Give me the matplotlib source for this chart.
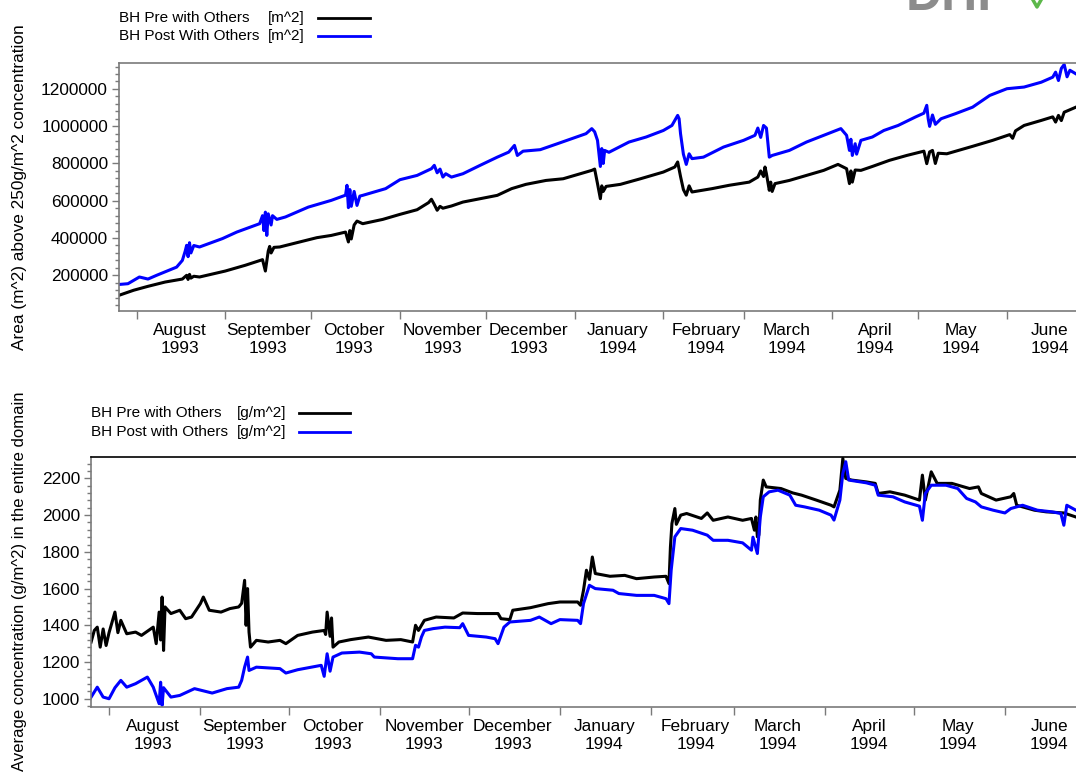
import numpy as np
import matplotlib
matplotlib.use('Agg')
import matplotlib.pyplot as plt
import matplotlib.dates as mdates
from matplotlib.ticker import MultipleLocator, FuncFormatter
from matplotlib.lines import Line2D
import pandas as pd

plt.rcParams['font.family'] = ['Liberation Sans', 'DejaVu Sans']

#Data
#------------------------
# top panel: area above 250 g/m^2 [m^2]
area_pre_dates = ['1993-07-25 22:00', '1993-07-31', '1993-08-05', '1993-08-11', '1993-08-17', '1993-08-18 12:00',
                  '1993-08-19', '1993-08-19 12:00', '1993-08-20', '1993-08-21', '1993-08-23', '1993-09-01',
                  '1993-09-08', '1993-09-14', '1993-09-15', '1993-09-16', '1993-09-16 12:00', '1993-09-17',
                  '1993-09-18', '1993-09-20', '1993-09-27', '1993-10-03', '1993-10-08', '1993-10-13',
                  '1993-10-14', '1993-10-14 12:00', '1993-10-15', '1993-10-16', '1993-10-17', '1993-10-19',
                  '1993-10-26', '1993-11-01', '1993-11-07', '1993-11-11', '1993-11-12', '1993-11-13',
                  '1993-11-14', '1993-11-15', '1993-11-16', '1993-11-19', '1993-11-23', '1993-11-29',
                  '1993-12-05', '1993-12-10', '1993-12-15', '1993-12-22', '1993-12-28', '1994-01-03',
                  '1994-01-07', '1994-01-08', '1994-01-09', '1994-01-10', '1994-01-10 12:00', '1994-01-11',
                  '1994-01-12', '1994-01-17', '1994-01-24', '1994-02-01', '1994-02-05', '1994-02-06',
                  '1994-02-07', '1994-02-08', '1994-02-09', '1994-02-10', '1994-02-11', '1994-02-18',
                  '1994-02-24', '1994-03-03', '1994-03-06', '1994-03-07', '1994-03-08', '1994-03-08 12:00',
                  '1994-03-09', '1994-03-10', '1994-03-10 12:00', '1994-03-11', '1994-03-12', '1994-03-17',
                  '1994-03-23', '1994-03-29', '1994-04-03', '1994-04-06', '1994-04-07', '1994-04-07 12:00',
                  '1994-04-08', '1994-04-09', '1994-04-11', '1994-04-15', '1994-04-21', '1994-04-27',
                  '1994-05-03', '1994-05-04', '1994-05-05', '1994-05-06', '1994-05-07', '1994-05-08',
                  '1994-05-11', '1994-05-20', '1994-05-27', '1994-06-02', '1994-06-03', '1994-06-04',
                  '1994-06-07', '1994-06-13', '1994-06-17', '1994-06-18', '1994-06-19', '1994-06-20',
                  '1994-06-21', '1994-06-25 02:00']
area_pre = [93000, 120000, 141000, 164000, 180000, 200000,
            178000, 205000, 185000, 195000, 191000, 223000,
            254000, 284000, 223000, 330000, 355000, 320000,
            350000, 352000, 379000, 402000, 414000, 432000,
            379000, 440000, 395000, 470000, 491000, 477000,
            500000, 527000, 552000, 590000, 608000, 580000,
            549000, 570000, 560000, 572000, 593000, 611000,
            629000, 665000, 688000, 709000, 718000, 745000,
            763000, 770000, 692000, 611000, 680000, 650000,
            677000, 688000, 718000, 754000, 781000, 808000,
            730000, 660000, 630000, 680000, 647000, 665000,
            683000, 700000, 727000, 760000, 730000, 781000,
            745000, 656000, 700000, 650000, 692000, 709000,
            736000, 763000, 795000, 772000, 692000, 760000,
            700000, 765000, 763000, 784000, 817000, 843000,
            866000, 799000, 862000, 870000, 800000, 855000,
            852000, 892000, 924000, 955000, 935000, 975000,
            1004000, 1031000, 1050000, 1022000, 1058000, 1030000,
            1075000, 1102000]

area_post_dates = ['1993-07-25 22:00', '1993-07-29', '1993-08-02', '1993-08-05', '1993-08-08', '1993-08-15',
                   '1993-08-17', '1993-08-18', '1993-08-18 12:00', '1993-08-19', '1993-08-19 12:00', '1993-08-20',
                   '1993-08-21', '1993-08-23', '1993-08-31', '1993-09-05', '1993-09-13', '1993-09-14',
                   '1993-09-14 12:00', '1993-09-15', '1993-09-15 12:00', '1993-09-16', '1993-09-17',
                   '1993-09-17 12:00', '1993-09-19', '1993-09-22', '1993-09-30', '1993-10-08', '1993-10-13',
                   '1993-10-13 12:00', '1993-10-14', '1993-10-14 12:00', '1993-10-15', '1993-10-16',
                   '1993-10-17', '1993-10-18', '1993-10-19', '1993-10-27', '1993-11-01', '1993-11-07',
                   '1993-11-12', '1993-11-13', '1993-11-14', '1993-11-15', '1993-11-16', '1993-11-17',
                   '1993-11-19', '1993-11-23', '1993-11-29', '1993-12-05', '1993-12-09', '1993-12-11',
                   '1993-12-12', '1993-12-14', '1993-12-20', '1993-12-26', '1993-12-31', '1994-01-05',
                   '1994-01-07', '1994-01-08', '1994-01-09', '1994-01-10', '1994-01-10 12:00', '1994-01-11',
                   '1994-01-11 12:00', '1994-01-13', '1994-01-20', '1994-01-26', '1994-02-01', '1994-02-04',
                   '1994-02-06', '1994-02-06 12:00', '1994-02-07', '1994-02-08', '1994-02-09', '1994-02-10',
                   '1994-02-11', '1994-02-15', '1994-02-22', '1994-03-01', '1994-03-05', '1994-03-06',
                   '1994-03-07', '1994-03-08', '1994-03-09', '1994-03-10', '1994-03-11', '1994-03-17',
                   '1994-03-23', '1994-03-29', '1994-04-04', '1994-04-06', '1994-04-07', '1994-04-07 12:00',
                   '1994-04-08', '1994-04-09', '1994-04-09 12:00', '1994-04-11', '1994-04-15', '1994-04-19',
                   '1994-04-24', '1994-04-30', '1994-05-03', '1994-05-04', '1994-05-04 12:00', '1994-05-05',
                   '1994-05-06', '1994-05-07', '1994-05-09', '1994-05-14', '1994-05-20', '1994-05-26',
                   '1994-06-01', '1994-06-07', '1994-06-13', '1994-06-17', '1994-06-18', '1994-06-19',
                   '1994-06-20', '1994-06-21', '1994-06-22', '1994-06-23', '1994-06-25 02:00']
area_post = [151000, 155000, 191000, 180000, 200000, 244000,
             280000, 330000, 361000, 300000, 375000, 320000,
             360000, 352000, 397000, 432000, 477000, 520000,
             440000, 539000, 414000, 530000, 470000,
             520000, 500000, 513000, 566000, 602000, 630000,
             683000, 563000, 660000, 570000, 650000,
             575000, 625000, 629000, 665000, 713000, 736000,
             772000, 790000, 750000, 770000, 727000, 745000,
             727000, 745000, 790000, 834000, 861000, 897000,
             843000, 866000, 874000, 906000, 933000, 960000,
             987000, 970000, 924000, 784000, 880000, 800000,
             870000, 860000, 915000, 942000, 977000, 1004000,
             1058000, 1040000, 960000, 850000, 795000, 852000,
             826000, 834000, 888000, 924000, 951000, 990000,
             940000, 1004000, 990000, 834000, 843000, 870000,
             915000, 951000, 987000, 951000, 870000, 930000,
             843000, 906000, 850000, 924000, 942000, 977000,
             1004000, 1049000, 1070000, 1112000, 1040000, 999000,
             1060000, 1010000, 1040000, 1067000, 1102000, 1165000,
             1201000, 1210000, 1236000, 1263000, 1290000, 1245000,
             1310000, 1331000, 1265000, 1300000, 1281000]

# bottom panel: average concentration [g/m^2]
conc_pre_dates = ['1993-07-25 22:00', '1993-07-27', '1993-07-28', '1993-07-29', '1993-07-30', '1993-07-31',
                  '1993-08-01', '1993-08-03', '1993-08-04', '1993-08-05', '1993-08-07', '1993-08-10',
                  '1993-08-12', '1993-08-16', '1993-08-17', '1993-08-18', '1993-08-18 12:00', '1993-08-19',
                  '1993-08-19 12:00', '1993-08-20', '1993-08-22', '1993-08-25', '1993-08-27', '1993-08-29',
                  '1993-09-01', '1993-09-02', '1993-09-04', '1993-09-08', '1993-09-11', '1993-09-14',
                  '1993-09-15', '1993-09-16', '1993-09-16 12:00', '1993-09-17', '1993-09-17 12:00',
                  '1993-09-18', '1993-09-20', '1993-09-24', '1993-09-28', '1993-09-30', '1993-10-04',
                  '1993-10-09', '1993-10-13', '1993-10-13 12:00', '1993-10-14', '1993-10-15',
                  '1993-10-15 12:00', '1993-10-16', '1993-10-18', '1993-10-22', '1993-10-28', '1993-11-03',
                  '1993-11-08', '1993-11-12', '1993-11-13', '1993-11-14', '1993-11-16', '1993-11-20',
                  '1993-11-26', '1993-11-29', '1993-12-04', '1993-12-11', '1993-12-12', '1993-12-15',
                  '1993-12-16', '1993-12-22', '1993-12-28', '1994-01-01', '1994-01-07', '1994-01-08',
                  '1994-01-09', '1994-01-10', '1994-01-11', '1994-01-12', '1994-01-13', '1994-01-18',
                  '1994-01-23', '1994-01-27', '1994-02-02', '1994-02-06', '1994-02-07', '1994-02-07 12:00',
                  '1994-02-08', '1994-02-09', '1994-02-09 12:00', '1994-02-11', '1994-02-13', '1994-02-18',
                  '1994-02-20', '1994-02-22', '1994-02-27', '1994-03-04', '1994-03-07', '1994-03-08',
                  '1994-03-08 12:00', '1994-03-09', '1994-03-09 12:00', '1994-03-10', '1994-03-11',
                  '1994-03-12', '1994-03-17', '1994-03-21', '1994-03-24', '1994-03-29', '1994-04-03',
                  '1994-04-04', '1994-04-06', '1994-04-07', '1994-04-08', '1994-04-10', '1994-04-15',
                  '1994-04-18', '1994-04-19', '1994-04-23', '1994-04-28', '1994-05-03', '1994-05-04',
                  '1994-05-05', '1994-05-07', '1994-05-09', '1994-05-14', '1994-05-20', '1994-05-23',
                  '1994-05-24', '1994-05-29', '1994-06-03', '1994-06-04', '1994-06-05', '1994-06-11',
                  '1994-06-15', '1994-06-21', '1994-06-25 02:00']
conc_pre = [1309, 1372, 1390, 1281, 1380, 1290,
            1360, 1472, 1360, 1427, 1354, 1363,
            1345, 1390, 1300, 1472, 1320, 1554,
            1263, 1500, 1464, 1482, 1436, 1445,
            1518, 1554, 1482, 1472, 1491, 1500,
            1520, 1645, 1400, 1600, 1363,
            1281, 1318, 1309, 1318, 1300, 1345,
            1363, 1372, 1350, 1472, 1340,
            1440, 1281, 1309, 1322, 1336, 1318,
            1322, 1309, 1400, 1372, 1427, 1445,
            1440, 1467, 1464, 1464, 1436, 1431,
            1482, 1496, 1518, 1527, 1527, 1509,
            1591, 1700, 1650, 1772, 1682, 1667,
            1672, 1654, 1663, 1667, 1627, 1827,
            1954, 2036, 1950, 2000, 2009, 1982,
            2012, 1972, 1990, 1972, 1982, 1918,
            1990, 1882, 1891, 2082, 2191,
            2154, 2145, 2121, 2109, 2082, 2054,
            2045, 2136, 2309, 2200, 2191, 2181,
            2173, 2118, 2127, 2109, 2082, 2218,
            2082, 2236, 2173, 2173, 2145, 2154,
            2118, 2082, 2100, 2118, 2054, 2027,
            2018, 2012, 1990]

conc_post_dates = ['1993-07-25 22:00', '1993-07-28', '1993-07-30', '1993-08-01', '1993-08-03', '1993-08-05',
                   '1993-08-07', '1993-08-10', '1993-08-14', '1993-08-16', '1993-08-18', '1993-08-18 12:00',
                   '1993-08-19', '1993-08-19 12:00', '1993-08-22', '1993-08-25', '1993-08-30', '1993-09-05',
                   '1993-09-10', '1993-09-14', '1993-09-15', '1993-09-16', '1993-09-17', '1993-09-17 12:00',
                   '1993-09-20', '1993-09-28', '1993-09-30', '1993-10-04', '1993-10-12', '1993-10-13',
                   '1993-10-14', '1993-10-15', '1993-10-16', '1993-10-19', '1993-10-25', '1993-10-29',
                   '1993-10-30', '1993-11-07', '1993-11-12', '1993-11-13', '1993-11-14', '1993-11-15',
                   '1993-11-16', '1993-11-19', '1993-11-23', '1993-11-28', '1993-11-29', '1993-12-01',
                   '1993-12-07', '1993-12-10', '1993-12-11', '1993-12-13', '1993-12-15', '1993-12-22',
                   '1993-12-25', '1993-12-29', '1994-01-01', '1994-01-07', '1994-01-08', '1994-01-09',
                   '1994-01-11', '1994-01-13', '1994-01-19', '1994-01-21', '1994-01-27', '1994-02-02',
                   '1994-02-06', '1994-02-07', '1994-02-07 18:00', '1994-02-09', '1994-02-11', '1994-02-15',
                   '1994-02-20', '1994-02-22', '1994-02-27', '1994-03-04', '1994-03-07', '1994-03-07 12:00',
                   '1994-03-09', '1994-03-10', '1994-03-11', '1994-03-13', '1994-03-16', '1994-03-20',
                   '1994-03-22', '1994-03-25', '1994-03-30', '1994-04-03', '1994-04-04', '1994-04-06',
                   '1994-04-07', '1994-04-08', '1994-04-09', '1994-04-15', '1994-04-18', '1994-04-19',
                   '1994-04-24', '1994-04-28', '1994-05-03', '1994-05-04', '1994-05-05', '1994-05-07',
                   '1994-05-12', '1994-05-16', '1994-05-19', '1994-05-22', '1994-05-24', '1994-05-28',
                   '1994-06-01', '1994-06-03', '1994-06-07', '1994-06-12', '1994-06-17', '1994-06-20',
                   '1994-06-21', '1994-06-22', '1994-06-25 02:00']
conc_post = [1009, 1063, 1009, 1000, 1060, 1100,
             1063, 1082, 1118, 1063, 973, 1090,
             964, 1060, 1009, 1018, 1055, 1031,
             1055, 1063, 1100, 1172, 1227, 1154,
             1172, 1164, 1140, 1158, 1182, 1122,
             1245, 1150, 1227, 1249, 1254, 1245,
             1227, 1218, 1218, 1291, 1281, 1336,
             1372, 1382, 1390, 1387, 1409, 1345,
             1336, 1327, 1300, 1390, 1418, 1427,
             1445, 1409, 1431, 1427, 1409, 1518,
             1618, 1600, 1591, 1573, 1563, 1563,
             1545, 1518, 1700, 1882, 1927, 1918,
             1891, 1863, 1863, 1849, 1809, 1880,
             1791, 1990, 2100, 2127, 2136, 2109,
             2054, 2045, 2027, 2000, 1973, 2082,
             2227, 2291, 2191, 2176, 2163, 2109,
             2100, 2072, 2049, 1972, 2118, 2163,
             2163, 2145, 2091, 2072, 2045, 2027,
             2012, 2036, 2054, 2027, 2018, 2009,
             1945, 2054, 2027]

x_start = pd.Timestamp('1993-07-25 21:00')
x_end = pd.Timestamp('1994-06-25 03:00')

def to_dates(d):
    return pd.to_datetime(d, format='ISO8601')

#Figure
#------
fig = plt.figure(figsize=(10.76, 7.76), dpi=100)
W, H = 1076.0, 776.0

ax1 = fig.add_axes([119/W, 1-311/H, (1076-119)/W, (311-63)/H])
ax2 = fig.add_axes([91/W, 1-707/H, (1076-91)/W, (707-457.5)/H])

ax1.plot(to_dates(area_pre_dates), area_pre, color='black', lw=2.2)
ax1.plot(to_dates(area_post_dates), area_post, color='blue', lw=2.2)
ax2.plot(to_dates(conc_pre_dates), conc_pre, color='black', lw=2.2)
ax2.plot(to_dates(conc_post_dates), conc_post, color='blue', lw=2.2)

ax1.set_ylim(8600, 1339000)
ax1.yaxis.set_major_locator(MultipleLocator(200000))
ax1.yaxis.set_minor_locator(MultipleLocator(40000))
ax2.set_ylim(955, 2314)
ax2.yaxis.set_major_locator(MultipleLocator(200))
ax2.yaxis.set_minor_locator(MultipleLocator(40))

gray = '#7a7a7a'
for ax in (ax1, ax2):
    ax.set_xlim(x_start, x_end)
    ax.yaxis.set_major_formatter(FuncFormatter(lambda v, p: '%d' % v))
    # ticks at month starts, labels in the middle of the month
    ax.xaxis.set_major_locator(mdates.MonthLocator())
    ax.xaxis.set_major_formatter(plt.NullFormatter())
    ax.xaxis.set_minor_locator(mdates.MonthLocator(bymonthday=16))
    ax.xaxis.set_minor_formatter(mdates.DateFormatter('%B\n%Y'))
    ax.tick_params(axis='x', which='major', length=6, color=gray, width=1)
    ax.tick_params(axis='x', which='minor', length=0, pad=8.5, labelsize=12.4)
    ax.tick_params(axis='y', which='major', length=5, color=gray, width=1, pad=3, labelsize=12.4)
    ax.tick_params(axis='y', which='minor', length=3, color=gray, width=1)
    ax.spines['right'].set_visible(False)
    for s in ('left', 'bottom', 'top'):
        ax.spines[s].set_color(gray)
        ax.spines[s].set_linewidth(1.2)
    for lab in ax.xaxis.get_minorticklabels():
        lab.set_linespacing(1.3)
ax2.spines['top'].set_color('black')

fig.text(20/W, 1-187/H, 'Area (m^2) above 250g/m^2 concentration', rotation=90,
         ha='center', va='center', fontsize=12.4)
fig.text(20/W, 1-581/H, 'Average concentration (g/m^2) in the entire domain', rotation=90,
         ha='center', va='center', fontsize=12.0)

#Legends drawn by hand (text + line sample)
#-------------------------------------------
def legend_row(x_text, x_unit, x0, x1, y, name, unit, color):
    fig.text(x_text/W, 1-y/H, name, ha='left', va='center', fontsize=11)
    fig.text(x_unit/W, 1-y/H, unit, ha='right', va='center', fontsize=11)
    fig.add_artist(Line2D([x0/W, x1/W], [1-y/H, 1-y/H], color=color, lw=2.0))

legend_row(119, 305, 318, 370, 18, 'BH Pre with Others', '[m^2]', 'black')
legend_row(119, 305, 318, 370, 36, 'BH Post With Others', '[m^2]', 'blue')
legend_row(91, 286, 299, 350, 413, 'BH Pre with Others', '[g/m^2]', 'black')
legend_row(91, 286, 299, 350, 432, 'BH Post with Others', '[g/m^2]', 'blue')

# partly cut logo in the top right corner
fig.text(906/W, 1-10/H, 'DHI', ha='left', va='baseline', fontsize=36,
         fontweight='bold', color='#8c8c8c')
fig.add_artist(Line2D([1033/W, 1037/W, 1041/W], [1.0, 1-7/H, 1.0], color='#5cb84a', lw=2.5))

fig.savefig('out.png', dpi=100)
